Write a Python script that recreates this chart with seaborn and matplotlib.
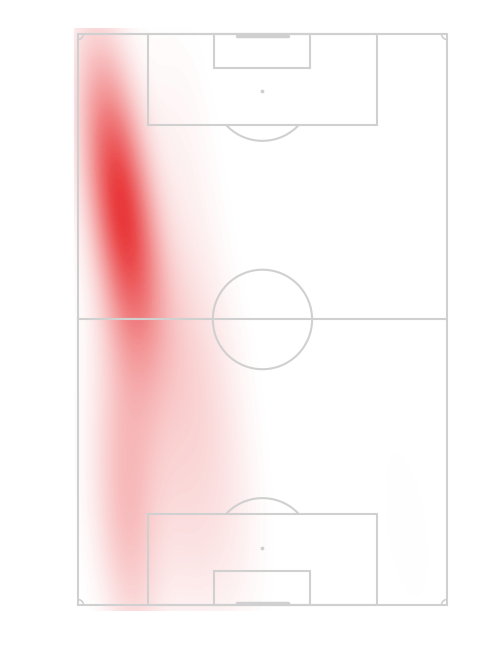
import numpy as np
import pandas as pd
import seaborn as sns
import matplotlib.pyplot as plt
from matplotlib.colors import LinearSegmentedColormap
from matplotlib.patches import Rectangle, Ellipse

sns.set_theme(style="white")

# touch locations, wyscout-like units: x across the pitch (0 = left touchline),
# y along the pitch (0 = own goal line, 100 = opposition goal line)
touch_x = [6, 8, 7, 10, 8, 12, 9, 13, 10, 14, 11, 16, 12, 17, 13, 15, 19,
           14, 16, 13, 17, 12, 15, 12, 16, 12, 14, 11, 13,
           26, 32, 24, 40, 30, 36, 26, 44, 32, 28, 40, 26, 30, 34,
           89]
touch_y = [94, 90, 85, 84, 80, 78, 75, 74, 71, 70, 67, 66, 63, 62, 59, 55, 56,
           50, 45, 41, 37, 33, 28, 23, 19, 15, 10, 6, 2,
           54, 48, 44, 42, 36, 28, 24, 20, 14, 6, 8, 80, 88, 64,
           14]
touch_w = [0.6, 0.8, 1.0, 0.8, 1.2, 1.0, 1.6, 1.2, 2.0, 1.2, 2.0, 1.0, 1.6, 0.8, 1.2, 1.0, 0.6,
           1.0, 0.8, 0.8, 0.7, 0.8, 0.9, 1.0, 0.9, 1.1, 1.0, 0.8, 0.6,
           0.9, 0.9, 0.9, 0.7, 0.9, 0.9, 0.9, 0.6, 0.9, 0.7, 0.7, 0.6, 0.4, 0.5,
           0.4]

touches = pd.DataFrame({"x": touch_x, "y": touch_y, "w": touch_w})

LINE = "#d0d0d0"
heat_cmap = LinearSegmentedColormap.from_list("heat", ["#ffffff", "#e8383a"])

fig = plt.figure(figsize=(5, 6.5), dpi=100)
ax = fig.add_axes([0.1338, 0.0429, 0.7822, 0.9312])
ax.set_xlim(-3, 103)
ax.set_ylim(-3, 103)
ax.axis("off")

sns.kdeplot(
    data=touches, x="x", y="y", weights="w", ax=ax,
    fill=True, levels=100, thresh=0.01, cmap=heat_cmap,
    bw_adjust=0.95, gridsize=100, clip=((-1, 101), (-1, 101)), zorder=1,
)

# pitch markings (105 x 68 m drawn in 0-100 units)
rx = 9.15 / 68 * 100
ry = 9.15 / 105 * 100
kw = dict(fill=False, edgecolor=LINE, lw=1.5, zorder=3)
ax.add_patch(Rectangle((0, 0), 100, 100, **kw))
ax.plot([0, 100], [50, 50], color=LINE, lw=1.5, zorder=3)
ax.add_patch(Ellipse((50, 50), 2 * rx, 2 * ry, **kw))
for base, sign in [(0, 1), (100, -1)]:
    ax.add_patch(Rectangle((19, base), 62, sign * 16, **kw))
    ax.add_patch(Rectangle((37, base), 26, sign * 6, **kw))
    ax.scatter([50], [base + sign * 10], s=3, color=LINE, zorder=3)
    t = np.linspace(0, 2 * np.pi, 400)
    arc_u = 50 + rx * np.cos(t)
    arc_v = base + sign * 10 + ry * np.sin(t)
    keep = (arc_v > 16) & (arc_v < 84)
    ax.plot(arc_u[keep], arc_v[keep], color=LINE, lw=1.5, zorder=3)
    ax.plot([43.1, 56.9], [base + sign * 0.4] * 2, color=LINE, lw=2.5, zorder=3)

cr_u = 1 / 68 * 100
cr_v = 1 / 105 * 100
for cx, cy, a0 in [(0, 0, 0), (100, 0, 90), (100, 100, 180), (0, 100, 270)]:
    t = np.radians(np.linspace(a0, a0 + 90, 20))
    ax.plot(cx + cr_u * np.cos(t), cy + cr_v * np.sin(t), color=LINE, lw=1.2, zorder=3)

fig.savefig("out.png", dpi=100, facecolor="white")
